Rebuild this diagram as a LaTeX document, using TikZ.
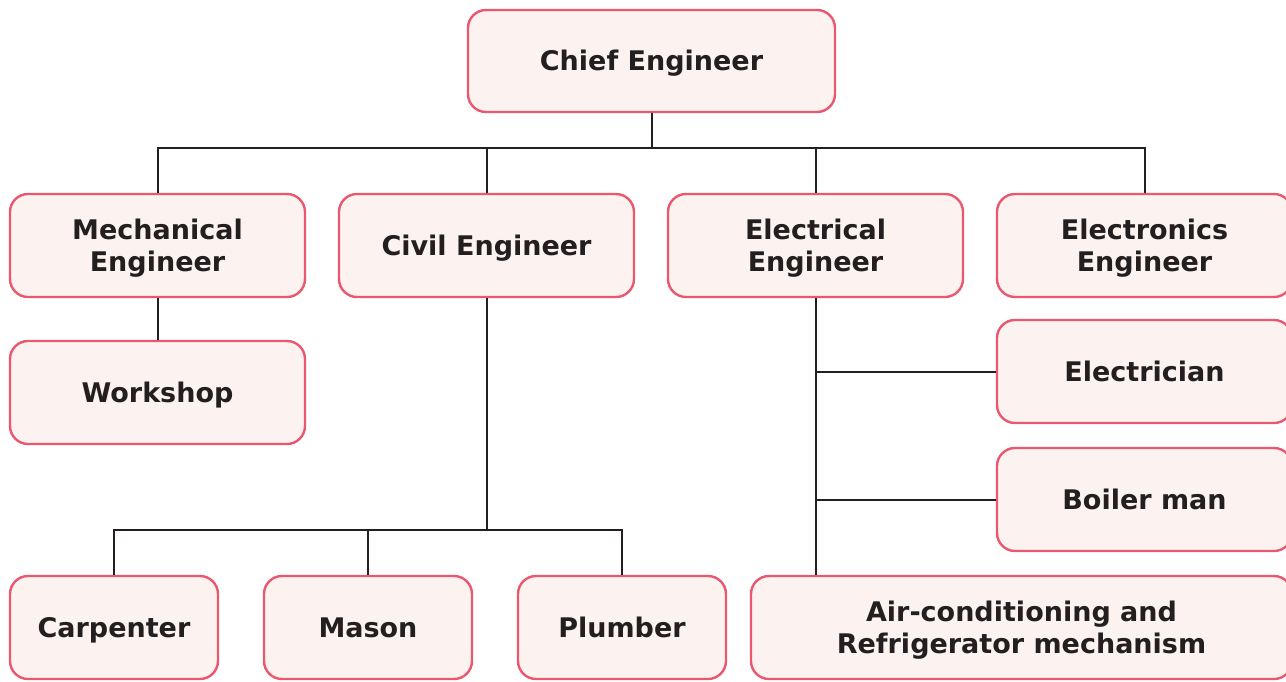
\documentclass[tikz,border=0pt]{standalone}
\usepackage{fontspec}
\setmainfont{DejaVu Sans}
\definecolor{boxfill}{HTML}{FCF3F1}
\definecolor{boxedge}{HTML}{EA5870}
\definecolor{ink}{HTML}{231F20}
\begin{document}
\begin{tikzpicture}[x=1pt,y=-1pt,
  role/.style={draw=boxedge, fill=boxfill, line width=2.4pt, rounded corners=18pt,
    inner sep=0pt, align=center, text=ink, text depth=-7pt,
    font=\fontsize{27}{32}\selectfont\bfseries},
  one/.style={text height=19.7pt, text depth=0pt},
  wide/.style={role, minimum width=295pt, minimum height=103pt},
  narrow/.style={role, minimum width=208pt, minimum height=103pt},
  link/.style={draw=ink, line width=2pt}]
\useasboundingbox (0,0) rectangle (1286,681);

% chief and department heads
\node[role, one, minimum width=367pt, minimum height=102pt] (chief) at (651.5,61) {Chief Engineer};
\node[wide] (mech) at (157.5,245.5) {Mechanical\\Engineer};
\node[wide, one] (civil) at (486.5,245.5) {Civil Engineer};
\node[wide] (elec) at (815.5,245.5) {Electrical\\Engineer};
\node[wide] (tron) at (1144.5,245.5) {Electronics\\Engineer};

% staff
\node[wide, one] (work) at (157.5,392.5) {Workshop};
\node[wide, one] (trician) at (1144.5,371.5) {Electrician};
\node[wide, one] (boiler) at (1144.5,499.5) {Boiler man};
\node[narrow, one] (carp) at (114,627.5) {Carpenter};
\node[narrow, one] (mason) at (368,627.5) {Mason};
\node[narrow, one] (plumb) at (622,627.5) {Plumber};
\node[role, minimum width=541pt, minimum height=103pt] (air) at (1021.5,627.5)
  {Air-conditioning and\\Refrigerator mechanism};

% junction points
\coordinate (tj) at (651.5,148);
\coordinate (cj) at (486.5,530);

% chief to heads
\draw[link] (chief.south) -- (tj);
\draw[link] (mech.north) -- (mech.north |- tj) -- (tron.north |- tj) -- (tron.north);
\draw[link] (civil.north) -- (civil.north |- tj);
\draw[link] (elec.north) -- (elec.north |- tj);

% mechanical
\draw[link] (mech.south) -- (work.north);

% civil
\draw[link] (civil.south) -- (cj);
\draw[link] (carp.north) -- (carp.north |- cj) -- (plumb.north |- cj) -- (plumb.north);
\draw[link] (mason.north) -- (mason.north |- cj);

% electrical
\draw[link] (elec.south) -- (elec.south |- air.north);
\draw[link] (elec.south |- trician.west) -- (trician.west);
\draw[link] (elec.south |- boiler.west) -- (boiler.west);
\end{tikzpicture}
\end{document}
